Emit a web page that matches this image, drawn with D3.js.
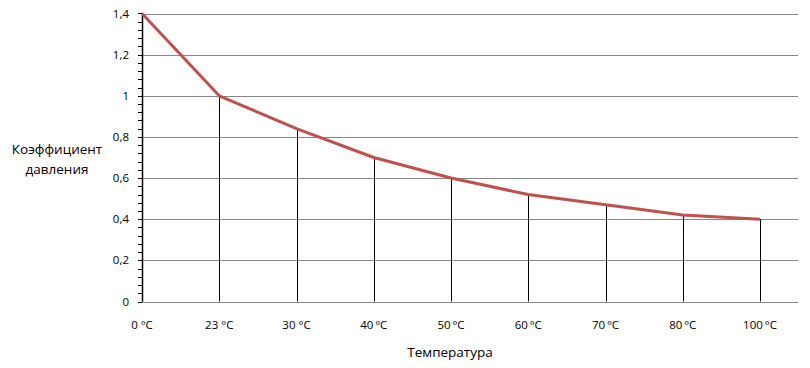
<!DOCTYPE html>
<html><head><meta charset="utf-8">
<script src="https://cdn.jsdelivr.net/npm/d3@7"></script>
<style>body{margin:0;background:#fff}svg{display:block}text{font-family:"Open Sans","Liberation Sans",sans-serif;fill:#000}</style>
</head><body><svg id="c" width="810" height="368"></svg>
<script>
const categories = ["0 °C","23 °C","30 °C","40\u2009°C","50\u2009°C","60\u2009°C","70\u2009°C","80\u2009°C","100\u2009°C"];
const values = [1.4, 1.0, 0.84, 0.70, 0.60, 0.52, 0.47, 0.42, 0.40];
const yTicks = [0, 0.2, 0.4, 0.6, 0.8, 1.0, 1.2, 1.4];
const yTickLabels = ["0","0,2","0,4","0,6","0,8","1","1,2","1,4"];
const yTitle = ["Коэффициент","давления"];
const xTitle = "Температура";

const svg = d3.select("#c");
const pLeft = 142, pRight = 798, pTop = 13.5, pBottom = 301.5;
const x = d3.scalePoint().domain(categories).range([pLeft, 760]);
const y = d3.scaleLinear().domain([0, 1.4]).range([pBottom, pTop]);

// gridlines
svg.append("g").selectAll("line").data(yTicks).join("line")
  .attr("x1", pLeft).attr("x2", pRight)
  .attr("y1", d => Math.round(y(d)) + 0.5).attr("y2", d => Math.round(y(d)) + 0.5)
  .attr("stroke", "#868686").attr("stroke-width", 1);

// minor ticks
const minor = d3.range(0, 1.4001, 0.04);
svg.append("g").selectAll("line").data(minor).join("line")
  .attr("x1", pLeft - 4).attr("x2", pLeft)
  .attr("y1", d => Math.round(y(d)) + 0.5).attr("y2", d => Math.round(y(d)) + 0.5)
  .attr("stroke", "#000");

// y axis line
svg.append("line").attr("x1", pLeft + 0.5).attr("x2", pLeft + 0.5)
  .attr("y1", y(1.4)).attr("y2", y(0)).attr("stroke", "#000").attr("stroke-width", 1.5);

// y labels
svg.append("g").selectAll("text").data(yTicks).join("text")
  .attr("x", 129).attr("y", d => y(d)).attr("dy", "0.35em")
  .attr("text-anchor", "end").attr("font-size", 11.5)
  .text((d, i) => yTickLabels[i]);

// drop lines
svg.append("g").selectAll("line").data(values).join("line")
  .attr("x1", (d, i) => Math.round(x(categories[i])) + 0.5)
  .attr("x2", (d, i) => Math.round(x(categories[i])) + 0.5)
  .attr("y1", d => y(d)).attr("y2", y(0))
  .attr("stroke", "#000").attr("stroke-width", 1);

// line
const line = d3.line().x((d, i) => x(categories[i])).y(d => y(d));
svg.append("path").datum(values).attr("d", line)
  .attr("fill", "none").attr("stroke", "#C0504D").attr("stroke-width", 3)
  .attr("stroke-linejoin", "round");

// x labels
svg.append("g").selectAll("text").data(categories).join("text")
  .attr("x", d => x(d)).attr("y", 325).attr("dy", "0.35em")
  .attr("text-anchor", "middle").attr("font-size", 11.5).text(d => d);

// titles
svg.append("text").attr("x", 450).attr("y", 352).attr("dy", "0.35em")
  .attr("text-anchor", "middle").attr("font-size", 13.5).text(xTitle);
svg.append("g").selectAll("text").data(yTitle).join("text")
  .attr("x", 57).attr("y", (d, i) => 149 + i * 20).attr("dy", "0.35em")
  .attr("text-anchor", "middle").attr("font-size", 13.5).text(d => d);
</script></body></html>
